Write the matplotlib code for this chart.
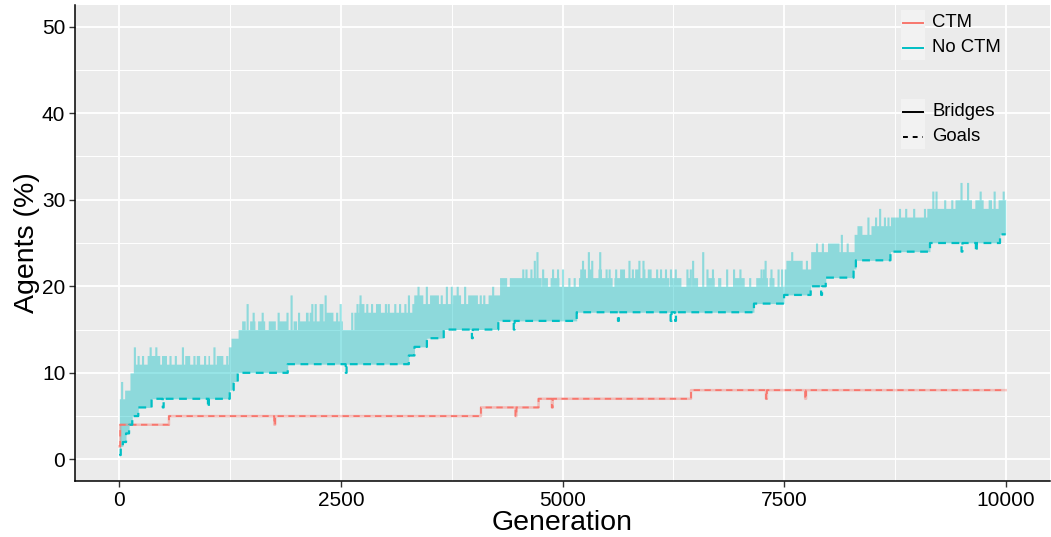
import numpy as np
import matplotlib
matplotlib.use("Agg")
import matplotlib.pyplot as plt
from matplotlib.patches import Rectangle
from matplotlib.lines import Line2D

plt.rcParams["font.family"] = ["Liberation Sans", "DejaVu Sans"]

# ---------------------------------------------------------------
# data (generation, % of agents)
# ---------------------------------------------------------------
# CTM goals (step, post)
ctm_goal_gen = [0, 10, 560, 4080, 4730, 6450]
ctm_goal_val = [1.5, 4, 5, 6, 7, 8]
ctm_goal_dips = [(1748, 4), (4470, 5), (4880, 6), (7296, 7), (7738, 7)]

# CTM bridges sits on top of the goals line
ctm_bridge_gen = ctm_goal_gen
ctm_bridge_val = ctm_goal_val

# No CTM goals (step, post)
noctm_goal_gen = [0, 15, 40, 75, 110, 145, 213, 363, 1245, 1290, 1336,
                  1900, 3265, 3330, 3470, 3660, 4276, 5160, 7160, 7500,
                  7800, 7970, 8284, 8310, 8700, 9146, 9935]
noctm_goal_val = [0.5, 1.5, 2, 3, 4, 5, 6, 7, 8, 9, 10,
                  11, 12, 13, 14, 15, 16, 17, 18, 19,
                  20, 21, 22, 23, 24, 25, 26]
noctm_goal_dips = [(490, 6), (1000, 6), (2553, 10), (3977, 14), (4450, 15),
                   (5625, 16), (6220, 16), (6270, 16), (7917, 19),
                   (9502, 24), (9663, 24)]

# No CTM bridges: dense top of the band (step, post) ...
bridge_top_gen = [0, 60, 120, 165, 1230, 1260, 1340, 2070, 2515, 2645,
                  3300, 4160, 4340, 7500, 7800, 8290, 8480, 8700, 9110]
bridge_top_val = [7, 8, 10, 11, 13, 14, 15, 16, 15, 17,
                  18, 19, 20, 22, 24, 26, 27, 28, 29]
# ... wider plateaus above it (start, end, value) ...
bridge_plateaus = [
    (314, 456, 12), (475, 531, 12), (737, 793, 12), (868, 906, 12),
    (999, 1018, 12), (1093, 1168, 12),
    (1380, 1420, 16), (1470, 1530, 16), (1560, 1640, 16), (1700, 1760, 16),
    (1800, 1900, 16), (1960, 2000, 16), (2030, 2070, 16),
    (2100, 2130, 17), (2330, 2400, 17),
    (2700, 2760, 18), (2890, 2946, 18), (3321, 3420, 19), (3500, 3600, 19),
    (3760, 3850, 19), (3930, 4040, 19),
    (4290, 4370, 21), (4400, 4540, 21), (4560, 4640, 21), (4650, 4760, 21),
    (4780, 4830, 21), (4860, 4960, 21), (4990, 5010, 21), (5180, 5560, 21),
    (5580, 5960, 21), (5980, 6200, 21), (6210, 6336, 21), (6392, 6430, 21),
    (6467, 6524, 21), (6617, 6711, 21), (6749, 6786, 21), (6917, 7049, 21),
    (7180, 7311, 21), (7330, 7386, 21),
    (5194, 5260, 22), (5288, 5340, 22), (5400, 5440, 22), (5644, 5700, 22),
    (5813, 5870, 22), (5955, 6000, 22),
    (7530, 7700, 23), (7990, 8120, 25),
    (8321, 8378, 27), (9427, 9614, 30), (9652, 9745, 30), (9802, 9839, 30),
    (9914, 10000, 30),
]
# ... and single spikes (generation, value)
bridge_spikes = [
    (14, 9), (157, 13), (200, 12), (250, 12), (336, 13), (400, 13),
    (560, 12), (620, 12), (700, 13), (830, 12), (950, 12), (1055, 13),
    (1200, 12),
    (1430, 18), (1498, 17), (1600, 17), (1680, 16), (1780, 17), (1880, 17),
    (1925, 19), (2010, 17),
    (2104, 17), (2142, 17), (2160, 18), (2198, 18), (2254, 18), (2273, 18),
    (2310, 19), (2348, 17), (2385, 17), (2440, 17), (2480, 18), (2610, 17),
    (2670, 18), (2703, 19), (2780, 18), (2834, 18), (2990, 18), (3021, 18),
    (3096, 18), (3150, 18), (3210, 18), (3250, 19),
    (3358, 20), (3400, 19), (3452, 20), (3508, 19), (3564, 19), (3620, 19),
    (3677, 20), (3733, 20), (3800, 20), (3883, 20), (3960, 19), (4060, 19),
    (4100, 19), (4200, 20), (4300, 21), (4340, 21),
    (4539, 22), (4576, 22), (4632, 22), (4670, 23), (4700, 24), (4764, 22),
    (4876, 22), (4932, 22), (4988, 22), (5060, 21), (5120, 21), (5213, 23),
    (5280, 24), (5318, 23), (5408, 24), (5480, 22), (5513, 22), (5588, 22),
    (5738, 23), (5775, 22), (5850, 23), (5895, 23), (5906, 22), (6050, 22),
    (6094, 22), (6150, 22), (6206, 22), (6260, 22),
    (6392, 22), (6430, 22), (6456, 23), (6569, 24), (6617, 22), (6680, 22),
    (6840, 22), (6917, 22), (6990, 22), (7100, 21), (7228, 22), (7255, 22),
    (7273, 23), (7340, 22), (7420, 22), (7460, 22),
    (7520, 23), (7573, 24), (7620, 23), (7680, 23), (7740, 23),
    (7854, 25), (7920, 25), (8004, 25), (8060, 25), (8134, 26), (8200, 25),
    (8330, 27), (8434, 28), (8520, 28), (8565, 29), (8620, 28), (8659, 28),
    (8790, 29), (8860, 29), (8950, 29), (9071, 29), (9165, 31), (9202, 31),
    (9300, 30), (9380, 30), (9483, 32), (9558, 32), (9700, 31), (9858, 31),
    (9959, 31),
]

legend_colour_labels = ["CTM", "No CTM"]
legend_type_labels = ["Bridges", "Goals"]

x_ticks = [0, 2500, 5000, 7500, 10000]
y_ticks = [0, 10, 20, 30, 40, 50]

RED = "#F8766D"
TEAL = "#00BFC4"

# ---------------------------------------------------------------
# helpers: evaluate step data on a fine generation grid
# ---------------------------------------------------------------
grid = np.arange(0, 10001, 2)


def on_grid(gen, val):
    idx = np.searchsorted(np.asarray(gen), grid, side="right") - 1
    return np.asarray(val, dtype=float)[idx]


def add_dips(arr, dips, width=10):
    arr = arr.copy()
    for g, v in dips:
        m = (grid >= g) & (grid < g + width)
        arr[m] = np.minimum(arr[m], v)
    return arr


ctm_goal = add_dips(on_grid(ctm_goal_gen, ctm_goal_val), ctm_goal_dips)
ctm_bridge = add_dips(on_grid(ctm_bridge_gen, ctm_bridge_val), ctm_goal_dips)
noctm_goal = add_dips(on_grid(noctm_goal_gen, noctm_goal_val), noctm_goal_dips)

band_top = on_grid(bridge_top_gen, bridge_top_val)
for s, e, v in bridge_plateaus:
    m = (grid >= s) & (grid < e)
    band_top[m] = np.maximum(band_top[m], v)
for g, v in bridge_spikes:
    m = (grid >= g) & (grid < g + 24)
    band_top[m] = np.maximum(band_top[m], v)
band_low = on_grid(noctm_goal_gen, noctm_goal_val)

# ---------------------------------------------------------------
# figure
# ---------------------------------------------------------------
W, H = 1051, 537
fig = plt.figure(figsize=(W / 100, H / 100), dpi=100)
ax = fig.add_axes([75 / W, 1 - 481 / H, 975 / W, 476 / H])
ax.set_facecolor("#EBEBEB")

ax.set_xlim(-500, 10500)
ax.set_ylim(-2.5, 52.5)
ax.set_xticks(x_ticks)
ax.set_yticks(y_ticks)
ax.set_xticks([1250, 3750, 6250, 8750], minor=True)
ax.set_yticks([5, 15, 25, 35, 45], minor=True)
ax.grid(which="major", color="white", lw=1.3)
ax.grid(which="minor", color="white", lw=0.7)
ax.set_axisbelow(True)
ax.tick_params(which="minor", length=0)
ax.tick_params(which="major", length=4, width=1, color="#333333",
               labelsize=15, labelcolor="black", pad=3)

for side in ["top", "right"]:
    ax.spines[side].set_visible(False)
for side in ["left", "bottom"]:
    ax.spines[side].set_color("black")
    ax.spines[side].set_linewidth(1.1)

dash = (0, (3.5, 2.5))

# CTM
ax.plot(grid, ctm_bridge, drawstyle="steps-post", color=RED, lw=1.8, alpha=0.4)
ax.plot(grid, ctm_goal, drawstyle="steps-post", color=RED, lw=1.3, ls=dash)

# No CTM
ax.fill_between(grid, band_low, band_top, step="post", color=TEAL,
                alpha=0.4, lw=0)
ax.plot(grid, noctm_goal, drawstyle="steps-post", color=TEAL, lw=1.6, ls=dash)

ax.set_xlabel("Generation", fontsize=20.5)
ax.set_ylabel("Agents (%)", fontsize=20.5)
ax.xaxis.set_label_coords(0.5, (481 - 510) / 476)
ax.yaxis.set_label_coords((40 - 75) / 975, 0.5)

# ---------------------------------------------------------------
# legend (drawn inside the panel, top right)
# ---------------------------------------------------------------
def fx(px):
    return px / W


def fy(py):
    return 1 - py / H


def key_block(y_top, colours, styles, labels):
    n = len(labels)
    fig.add_artist(Rectangle((fx(901), fy(y_top + 25 * n)), 24 / W, 25 * n / H,
                             transform=fig.transFigure, color="#F2F2F2", lw=0))
    for i in range(n):
        yc = y_top + 12.5 + 25 * i
        fig.add_artist(Line2D([fx(903), fx(923)], [fy(yc), fy(yc)],
                              transform=fig.transFigure, color=colours[i],
                              ls=styles[i], lw=1.4))
        fig.text(fx(932), fy(yc), labels[i], fontsize=13.3, va="center",
                 ha="left")


key_block(10, [RED, TEAL], ["-", "-"], legend_colour_labels)
key_block(99, ["black", "black"], ["-", (0, (2.5, 2.5))], legend_type_labels)

fig.savefig("out.png", dpi=100)
